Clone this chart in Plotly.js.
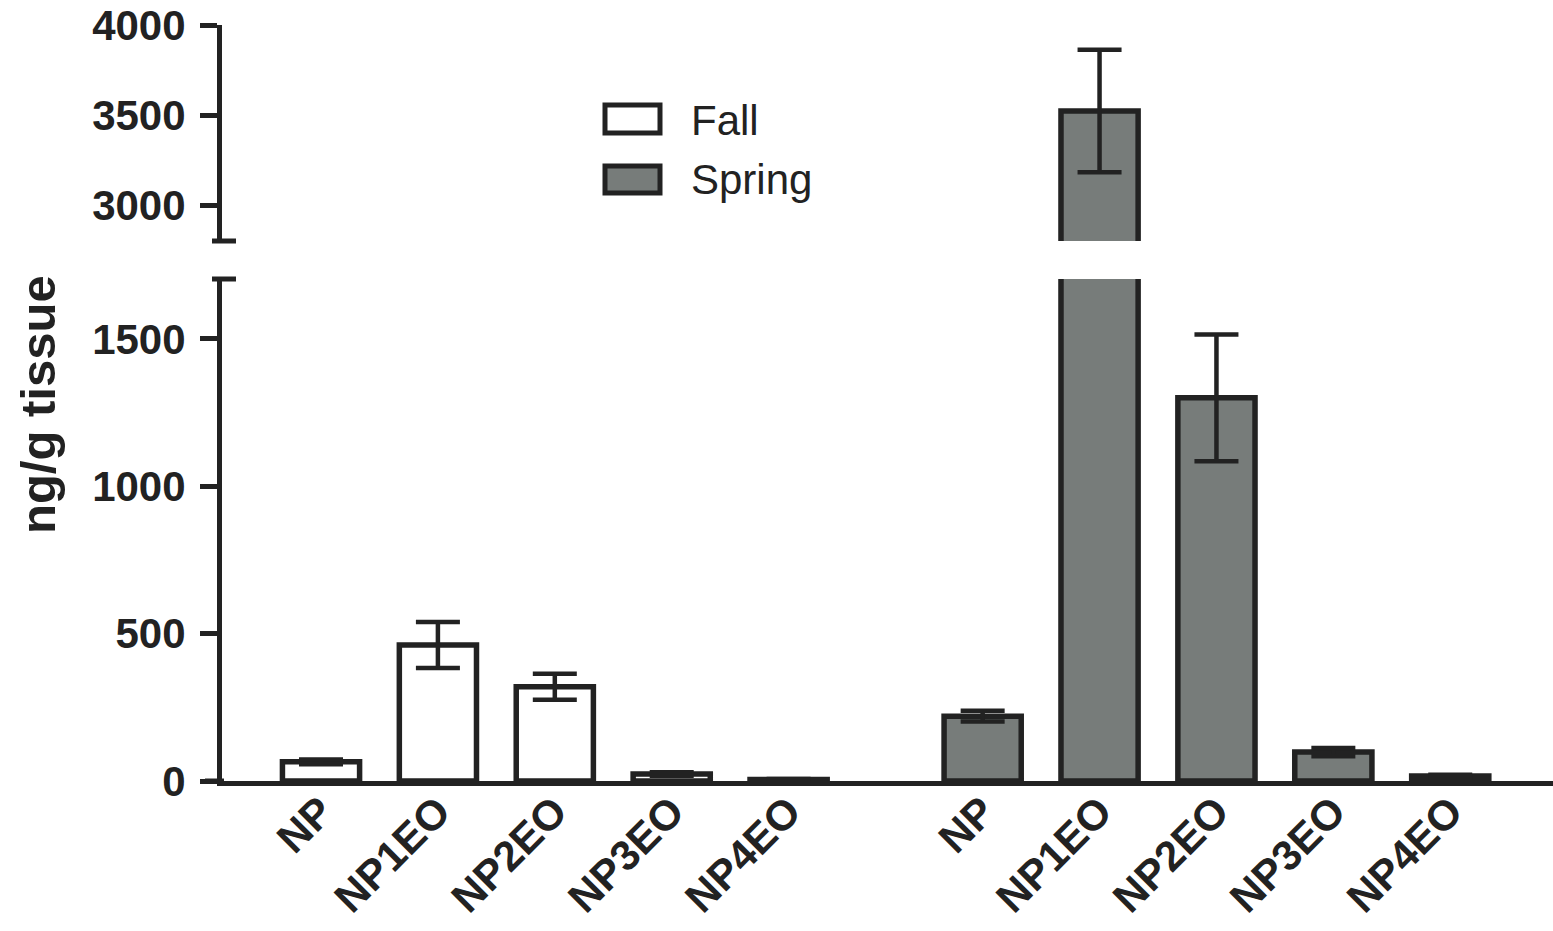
<!DOCTYPE html>
<html>
<head>
<meta charset="utf-8">
<script src="https://cdn.plot.ly/plotly-3.0.1.min.js"></script>
<style>html,body{margin:0;padding:0;background:#fff;}#chart{width:1553px;height:931px;}</style>
</head>
<body>
<div id="chart"></div>
<script>
// ---- data ----
const categories = ['NP', 'NP1EO', 'NP2EO', 'NP3EO', 'NP4EO'];
const fallValues = [65, 461, 320, 24, 5];
const fallErrors = [8, 78, 44, 6, 2];
const springValues = [220, 3522, 1300, 98, 17];
const springErrors = [18, 340, 215, 14, 4];
const seriesNames = ['Fall', 'Spring'];
const lowerTicks = [0, 500, 1000, 1500];
const upperTicks = [3000, 3500, 4000];

// ---- layout helpers ----
const W = 1553, H = 931;
const ML = 222, MR = 0, MT = 25, MB = 150;
const PW = W - ML - MR, PH = H - MT - MB;
const px = x => (x - ML) / PW;
const py = y => (H - MB - y) / PH;
const GROUP_OFFSET = 5.66;
const fallX = categories.map((c, i) => i);
const springX = categories.map((c, i) => i + GROUP_OFFSET);
const INK = '#222222';
const GREY = '#777c7a';
const FONT = 'Liberation Sans, Arial, Helvetica, sans-serif';

const barLine = {color: INK, width: 5.5};
const err = (arr) => ({type: 'data', array: arr, visible: true, color: INK, thickness: 4.5, width: 22});

const traces = [
  {type: 'bar', name: seriesNames[0], x: fallX, y: fallValues, width: 0.66,
   marker: {color: '#ffffff', line: barLine}, error_y: err(fallErrors),
   xaxis: 'x', yaxis: 'y', showlegend: false},
  {type: 'bar', name: seriesNames[1], x: springX, y: springValues, width: 0.66,
   marker: {color: GREY, line: barLine}, error_y: err(springErrors),
   xaxis: 'x', yaxis: 'y', showlegend: false},
  {type: 'bar', name: seriesNames[1], x: springX, y: springValues, width: 0.66,
   marker: {color: GREY, line: barLine}, error_y: err(springErrors),
   xaxis: 'x', yaxis: 'y2', showlegend: false}
];

const yCommon = {
  showline: true, linecolor: INK, linewidth: 5,
  ticks: 'outside', ticklen: 17, tickwidth: 5, tickcolor: INK,
  showgrid: false, zeroline: false, fixedrange: true,
  ticklabelstandoff: 6,
  tickfont: {family: FONT, size: 42, color: INK, weight: 'bold'},
  anchor: 'x'
};

const lowerTop = py(279), upperBottom = py(241);

const shapes = [
  // axis break caps
  {type: 'line', xref: 'paper', yref: 'paper', x0: px(212), x1: px(236), y0: py(241), y1: py(241), line: {color: INK, width: 5}},
  {type: 'line', xref: 'paper', yref: 'paper', x0: px(212), x1: px(236), y0: py(279), y1: py(279), line: {color: INK, width: 5}},
  // x axis extension to the tick ends
  {type: 'line', xref: 'paper', yref: 'paper', x0: px(205), x1: px(224), y0: 0, y1: 0, line: {color: INK, width: 5}},
  // legend swatches
  {type: 'rect', xref: 'paper', yref: 'paper', x0: px(605), x1: px(660), y0: py(105), y1: py(133), fillcolor: '#ffffff', line: {color: INK, width: 5}},
  {type: 'rect', xref: 'paper', yref: 'paper', x0: px(605), x1: px(660), y0: py(166), y1: py(193), fillcolor: GREY, line: {color: INK, width: 5}}
];

const annotations = [
  {xref: 'paper', yref: 'paper', x: px(689), y: py(120), xanchor: 'left', yanchor: 'middle', showarrow: false,
   text: seriesNames[0], font: {family: FONT, size: 42, color: INK}},
  {xref: 'paper', yref: 'paper', x: px(689), y: py(180), xanchor: 'left', yanchor: 'middle', showarrow: false,
   text: seriesNames[1], font: {family: FONT, size: 42, color: INK}},
  {xref: 'paper', yref: 'paper', x: px(38), y: py(405), xanchor: 'center', yanchor: 'middle', showarrow: false,
   textangle: -90, text: 'ng/g tissue', font: {family: FONT, size: 49, color: INK, weight: 'bold'}}
];

const layout = {
  width: W, height: H,
  margin: {l: ML, r: MR, t: MT, b: MB, pad: 0},
  paper_bgcolor: '#ffffff', plot_bgcolor: '#ffffff',
  barmode: 'overlay',
  xaxis: {
    range: [-0.847, 10.539], showline: true, linecolor: INK, linewidth: 5,
    showgrid: false, zeroline: false, ticks: '', fixedrange: true,
    tickvals: fallX.concat(springX), ticktext: categories.concat(categories),
    tickangle: -45, ticklabelstandoff: -16,
    tickfont: {family: FONT, size: 42, color: INK, weight: 'bold'},
    anchor: 'y'
  },
  yaxis: Object.assign({}, yCommon, {domain: [0, lowerTop], range: [0, 1703], tickvals: lowerTicks}),
  yaxis2: Object.assign({}, yCommon, {domain: [upperBottom, 1], range: [2800, 4000], tickvals: upperTicks}),
  shapes: shapes,
  annotations: annotations,
  showlegend: false
};

Plotly.newPlot('chart', traces, layout, {displayModeBar: false, staticPlot: true});
</script>
</body>
</html>
